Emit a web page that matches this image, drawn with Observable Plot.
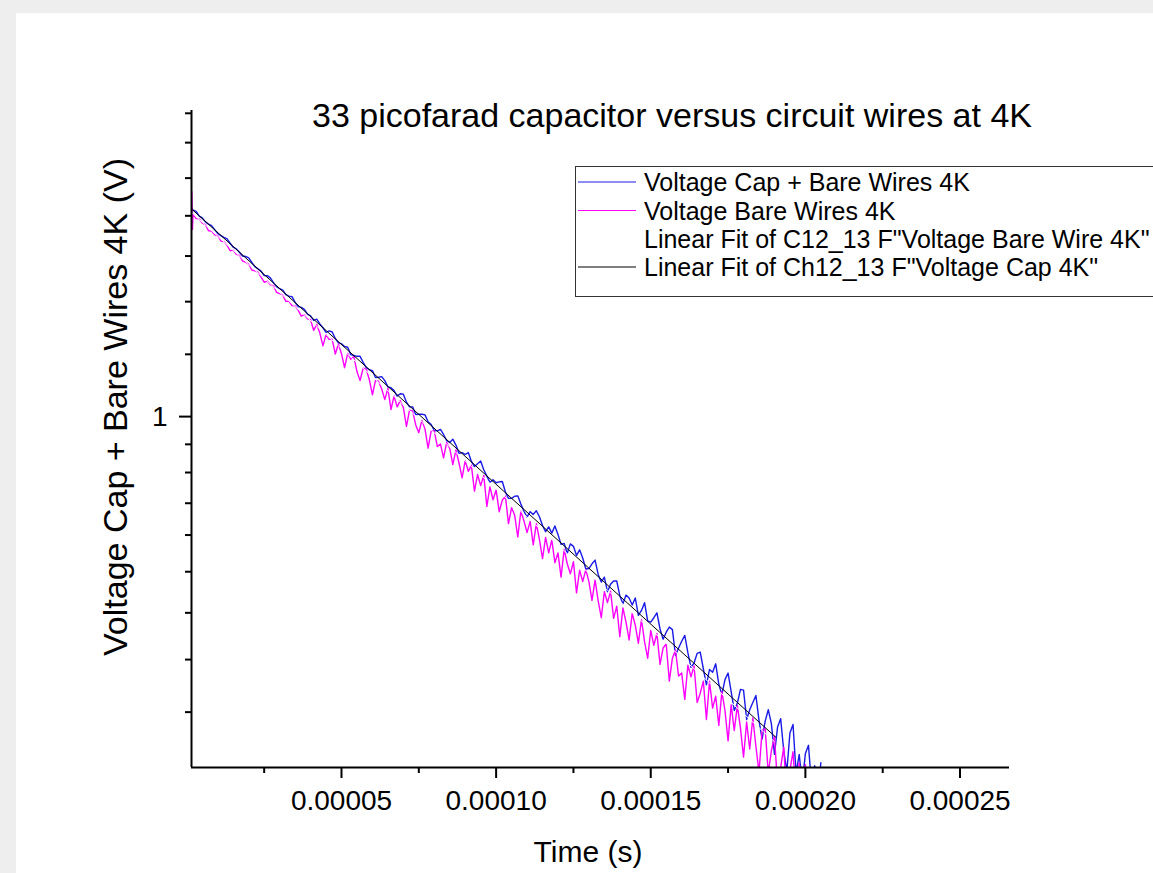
<!DOCTYPE html>
<html>
<head>
<meta charset="utf-8">
<script src="https://cdn.jsdelivr.net/npm/d3@7"></script>
<script src="https://cdn.jsdelivr.net/npm/@observablehq/plot@0.6"></script>
<style>
  html, body { margin: 0; padding: 0; width: 1153px; height: 873px; overflow: hidden; background: #eeeeee; }
  #panel { position: absolute; left: 16px; top: 13px; width: 1200px; height: 900px; background: #ffffff; }
  #chart { position: absolute; left: 0; top: 0; }
  #anno { position: absolute; left: 0; top: 0; }
  text { font-family: "Liberation Sans", Arial, sans-serif; }
</style>
</head>
<body>
<div id="panel"></div>
<div id="chart"></div>
<svg id="anno" width="1153" height="873"></svg>
<script>
// ---------- data (time in microseconds, voltage in volts) ----------
const timeUs = [1.6, 1.8,
  2, 3, 4, 5, 6, 7, 8, 9, 10, 11,
  12, 13, 14, 15, 16, 17, 18, 19, 20, 21,
  22, 23, 24, 25, 26, 27, 28, 29, 30, 31,
  32, 33, 34, 35, 36, 37, 38, 39, 40, 41,
  42, 43, 44, 45, 46, 47, 48, 49, 50, 51,
  52, 53, 54, 55, 56, 57, 58, 59, 60, 61,
  62, 63, 64, 65, 66, 67, 68, 69, 70, 71,
  72, 73, 74, 75, 76, 77, 78, 79, 80, 81,
  82, 83, 84, 85, 86, 87, 88, 89, 90, 91,
  92, 93, 94, 95, 96, 97, 98, 99, 100, 101,
  102, 103, 104, 105, 106, 107, 108, 109, 110, 111,
  112, 113, 114, 115, 116, 117, 118, 119, 120, 121,
  122, 123, 124, 125, 126, 127, 128, 129, 130, 131,
  132, 133, 134, 135, 136, 137, 138, 139, 140, 141,
  142, 143, 144, 145, 146, 147, 148, 149, 150, 151,
  152, 153, 154, 155, 156, 157, 158, 159, 160, 161,
  162, 163, 164, 165, 166, 167, 168, 169, 170, 171,
  172, 173, 174, 175, 176, 177, 178, 179, 180, 181,
  182, 183, 184, 185, 186, 187, 188, 189, 190, 191,
  192, 193, 194, 195, 196, 197, 198, 199, 200, 201,
  202, 203, 204, 205];

const voltageCapBare = [1.842, 1.836,
  1.830, 1.824, 1.798, 1.789, 1.768, 1.757, 1.749, 1.729, 1.709, 1.699,
  1.690, 1.683, 1.661, 1.642, 1.634, 1.618, 1.600, 1.598, 1.591, 1.570,
  1.551, 1.541, 1.531, 1.511, 1.511, 1.501, 1.480, 1.463, 1.454, 1.448,
  1.429, 1.423, 1.421, 1.397, 1.380, 1.377, 1.369, 1.350,
  1.343, 1.325, 1.330, 1.312, 1.297, 1.280, 1.285, 1.281, 1.257, 1.241,
  1.238, 1.228, 1.225, 1.199, 1.196, 1.193, 1.193, 1.172, 1.154, 1.147,
  1.144, 1.121, 1.122, 1.124, 1.111, 1.091, 1.088, 1.079, 1.062, 1.069,
  1.068, 1.043, 1.029, 1.029, 1.006, 1.007, 1.007, 1.005, 0.985, 0.977,
  0.960, 0.959, 0.963, 0.949, 0.932, 0.927, 0.936, 0.920, 0.898, 0.900,
  0.895, 0.900, 0.877, 0.864, 0.871, 0.878, 0.856, 0.840, 0.825, 0.831,
  0.824, 0.826, 0.827, 0.802, 0.787, 0.787, 0.792, 0.793, 0.774, 0.758,
  0.745, 0.757, 0.751, 0.759, 0.746, 0.727, 0.714, 0.724, 0.711, 0.726,
  0.708, 0.688, 0.690, 0.670, 0.689, 0.684, 0.666, 0.677, 0.661, 0.640,
  0.641, 0.650, 0.657, 0.630, 0.616, 0.625, 0.599, 0.612, 0.618, 0.618,
  0.592, 0.578, 0.593, 0.588, 0.576, 0.588, 0.559, 0.567, 0.580, 0.550,
  0.548, 0.555, 0.563, 0.537, 0.521, 0.532, 0.540, 0.536, 0.497, 0.508,
  0.518, 0.527, 0.501, 0.480, 0.486, 0.500, 0.502, 0.478, 0.456, 0.477,
  0.473, 0.485, 0.457, 0.443, 0.463, 0.472, 0.447, 0.423, 0.432, 0.450,
  0.449, 0.412, 0.424, 0.433, 0.442, 0.411, 0.389, 0.410, 0.424, 0.407,
  0.372, 0.403, 0.413, 0.376, 0.354, 0.396, 0.406, 0.352, 0.372, 0.342,
  0.373, 0.382, 0.340, 0.360, 0.330, 0.363];

const voltageBare = [1.930, 1.730,
  1.809, 1.785, 1.784, 1.762, 1.754, 1.723, 1.722, 1.703, 1.698, 1.672,
  1.669, 1.651, 1.625, 1.628, 1.608, 1.603, 1.577, 1.572, 1.563, 1.536,
  1.532, 1.526, 1.504, 1.482, 1.487, 1.471, 1.466, 1.439, 1.433, 1.428,
  1.401, 1.402, 1.384, 1.383, 1.366, 1.342, 1.348, 1.331,
  1.328, 1.287, 1.310, 1.277, 1.230, 1.271, 1.254, 1.254, 1.201, 1.237,
  1.202, 1.154, 1.203, 1.183, 1.192, 1.141, 1.111, 1.152, 1.149, 1.114,
  1.066, 1.112, 1.109, 1.084, 1.051, 1.086, 1.021, 1.062, 1.029, 1.048,
  1.027, 0.972, 1.019, 1.017, 0.976, 0.954, 0.989, 0.964, 0.912, 0.959,
  0.959, 0.916, 0.923, 0.886, 0.927, 0.911, 0.869, 0.907, 0.873, 0.836,
  0.879, 0.852, 0.867, 0.804, 0.844, 0.817, 0.842, 0.769, 0.814, 0.784,
  0.807, 0.757, 0.783, 0.792, 0.731, 0.766, 0.749, 0.703, 0.758, 0.737,
  0.712, 0.736, 0.687, 0.731, 0.698, 0.660, 0.702, 0.671, 0.697, 0.652,
  0.671, 0.625, 0.678, 0.650, 0.631, 0.654, 0.597, 0.638, 0.617, 0.639,
  0.617, 0.584, 0.620, 0.583, 0.555, 0.599, 0.580, 0.600, 0.554, 0.574,
  0.525, 0.571, 0.548, 0.520, 0.562, 0.543, 0.515, 0.552, 0.517, 0.493,
  0.535, 0.512, 0.530, 0.484, 0.508, 0.514, 0.461, 0.493, 0.505, 0.468,
  0.472, 0.437, 0.483, 0.467, 0.482, 0.433, 0.445, 0.461, 0.412, 0.461,
  0.426, 0.441, 0.405, 0.447, 0.423, 0.387, 0.430, 0.399, 0.429, 0.402,
  0.369, 0.409, 0.378, 0.414, 0.381, 0.353, 0.399, 0.401, 0.352, 0.376,
  0.392, 0.341, 0.358, 0.380, 0.327, 0.355, 0.375, 0.329, 0.363, 0.320,
  0.361, 0.328, 0.308, 0.350, 0.315, 0.295];

// linear fits (straight on the log axis): endpoints
const fitCapTimeUs = [1.7, 190.5];
const fitCapVoltage = [1.834, 0.391];
const fitBareTimeUs = [1.7, 190.0];
const fitBareVoltage = [1.815, 0.386];

// axes
const xDomain = [0.0000015, 0.000266];
const yDomain = [0.358, 2.45];
const xMajorTicks = [0.00005, 0.00010, 0.00015, 0.00020, 0.00025];
const xMinorTicks = [0.000025, 0.000075, 0.000125, 0.000175, 0.000225];
const yMajorTicks = [1];
const yMinorTicks = [0.421, 0.491, 0.563, 0.635, 0.707, 0.776, 0.849, 0.922, 1.2, 1.4, 1.6, 1.8, 2.01, 2.23, 2.43];

const titleText = "33 picofarad capacitor versus circuit wires at 4K";
const xLabel = "Time (s)";
const yLabel = "Voltage Cap + Bare Wires 4K (V)";
const legendLabels = [
  "Voltage Cap + Bare Wires 4K",
  "Voltage Bare Wires 4K",
  "Linear Fit of C12_13 F\"Voltage Bare Wire 4K\"",
  "Linear Fit of Ch12_13 F\"Voltage Cap 4K\""
];
const seriesColors = ["#1a1ae6", "#ff00ff", "#ffffff", "#000000"];

// ---------- build tables ----------
const toRows = (ts, vs) => ts.map((t, i) => ({t: t * 1e-6, v: vs[i]})).filter(d => d.v != null);
const capRows = toRows(timeUs, voltageCapBare);
const bareRows = toRows(timeUs, voltageBare);
const fitCapRows = toRows(fitCapTimeUs, fitCapVoltage);
const fitBareRows = toRows(fitBareTimeUs, fitBareVoltage);

const minorYAxes = yMinorTicks.map(v =>
  Plot.axisY({ticks: [v], tickSize: 6, strokeWidth: 2, tickFormat: () => "", label: null}));

const chart = Plot.plot({
  width: 1153,
  height: 873,
  marginLeft: 191,
  marginRight: 144,
  marginTop: 110,
  marginBottom: 106,
  style: {background: "transparent", fontFamily: "'Liberation Sans', Arial, sans-serif", fontSize: "28px", color: "#000"},
  x: {type: "linear", domain: xDomain},
  y: {type: "log", domain: yDomain},
  marks: [
    Plot.line(capRows, {x: "t", y: "v", stroke: seriesColors[0], strokeWidth: 1.4, clip: true}),
    Plot.line(bareRows, {x: "t", y: "v", stroke: seriesColors[1], strokeWidth: 1.4, clip: true}),
    Plot.line(fitBareRows, {x: "t", y: "v", stroke: seriesColors[2], strokeWidth: 1, clip: true}),
    Plot.line(fitCapRows, {x: "t", y: "v", stroke: seriesColors[3], strokeWidth: 1, clip: true}),
    Plot.axisX({ticks: xMajorTicks, tickSize: 11, tickPadding: 12, strokeWidth: 2, tickFormat: d3.format(".5f"), label: null}),
    Plot.axisX({ticks: xMinorTicks, tickSize: 6, strokeWidth: 2, tickFormat: () => "", label: null}),
    Plot.axisY({ticks: yMajorTicks, tickSize: 12, tickPadding: 12, strokeWidth: 2, tickFormat: d => String(d), label: null}),
    ...minorYAxes,
    Plot.ruleX([xDomain[0]], {stroke: "#000", strokeWidth: 2}),
    Plot.ruleY([yDomain[0]], {stroke: "#000", strokeWidth: 2})
  ]
});
document.getElementById("chart").appendChild(chart);

// ---------- title, axis labels, legend ----------
const anno = d3.select("#anno");
anno.append("text").attr("x", 672).attr("y", 127).attr("text-anchor", "middle")
  .attr("font-size", 34).attr("fill", "#000").text(titleText);
anno.append("text").attr("transform", "translate(127,407) rotate(-90)").attr("text-anchor", "middle")
  .attr("font-size", 34).attr("fill", "#000").text(yLabel);
anno.append("text").attr("x", 588).attr("y", 862).attr("text-anchor", "middle")
  .attr("font-size", 30).attr("fill", "#000").text(xLabel);

const lg = anno.append("g");
lg.append("rect").attr("x", 575.5).attr("y", 166.5).attr("width", 640).attr("height", 130)
  .attr("fill", "#fff").attr("stroke", "#333").attr("stroke-width", 1);
const rowY = [182, 210.5, 239, 267];
legendLabels.forEach((lab, i) => {
  lg.append("line").attr("x1", 578).attr("x2", 636).attr("y1", rowY[i]).attr("y2", rowY[i])
    .attr("stroke", seriesColors[i]).attr("stroke-width", 1.2);
  lg.append("text").attr("x", 644).attr("y", rowY[i] + 9).attr("font-size", 25)
    .attr("fill", "#000").text(lab);
});
</script>
</body>
</html>
